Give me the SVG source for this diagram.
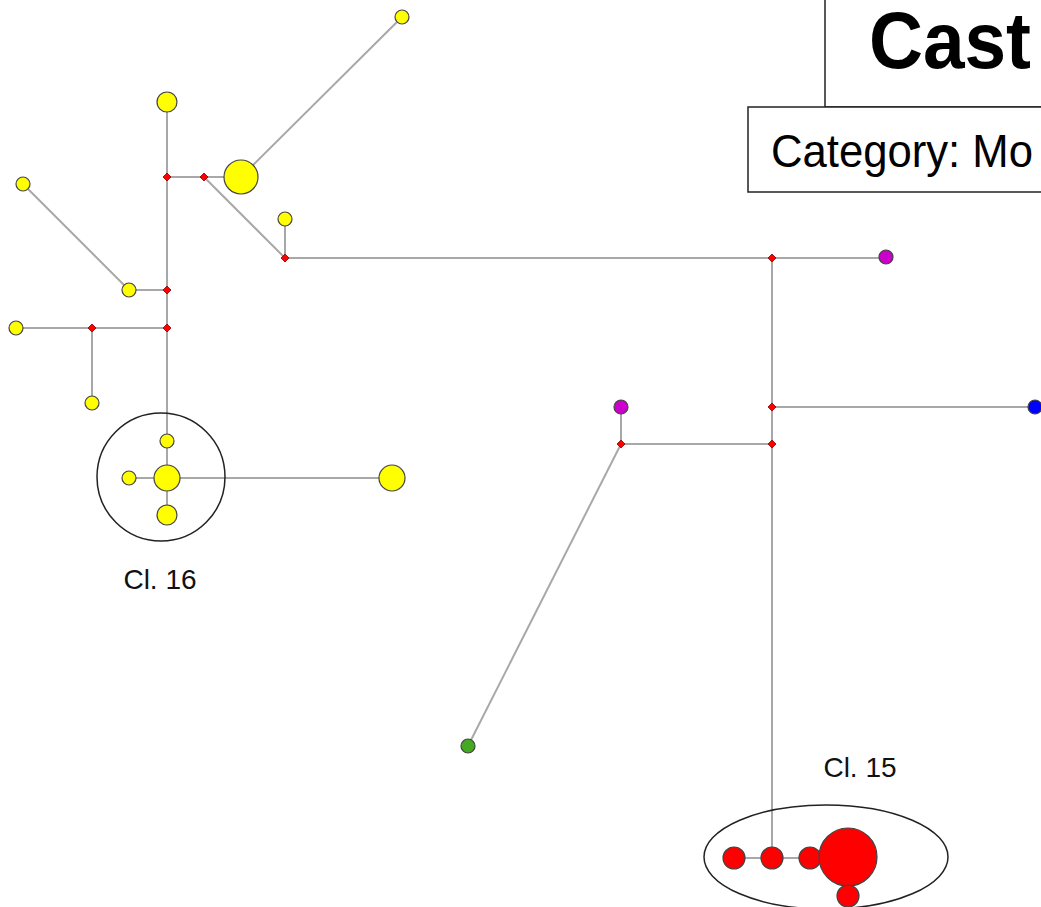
<svg xmlns="http://www.w3.org/2000/svg" width="1041" height="907" viewBox="0 0 1041 907">
<style>
.e{stroke:#a8a8a8;stroke-width:2;fill:none}
.y{fill:#ffff00;stroke:#444;stroke-width:1.2}
.r{fill:#ff0000;stroke:#444;stroke-width:1.2}
.m{fill:#cc00cc;stroke:#444;stroke-width:1.2}
.b{fill:#0000ff;stroke:#444;stroke-width:1.2}
.g{fill:#44aa22;stroke:#444;stroke-width:1.2}
.mv{fill:#ff0000;stroke:#800;stroke-width:0.8}
.cl{fill:none;stroke:#222;stroke-width:1.5}
.lbl{font-family:"Liberation Sans",Arial,sans-serif;font-size:28px;fill:#111;text-anchor:middle}
.box{fill:#fff;stroke:#222;stroke-width:1.5}
</style>
<defs>
<path id="dm" d="M0,-4L4,0L0,4L-4,0Z"/>
</defs>
<rect width="1041" height="907" fill="#fff"/>
<g id="title">
<rect class="box" x="825" y="-5" width="230" height="112"/>
<text x="869" y="68" font-family="Liberation Sans,Arial,sans-serif" font-weight="bold" font-size="80" fill="#000" textLength="162" lengthAdjust="spacingAndGlyphs">Cast</text>
</g>
<g id="category">
<rect class="box" x="748" y="107" width="310" height="85"/>
<text x="771" y="167" font-family="Liberation Sans,Arial,sans-serif" font-size="46" fill="#000" textLength="262" lengthAdjust="spacingAndGlyphs">Category: Mo</text>
</g>
<g id="connectors">
<line class="e" x1="402" y1="17" x2="241" y2="177"/>
<line class="e" x1="167" y1="102" x2="167" y2="177"/>
<line class="e" x1="167" y1="177" x2="241" y2="177"/>
<line class="e" x1="204" y1="177" x2="285" y2="258"/>
<line class="e" x1="285" y1="219" x2="285" y2="258"/>
<line class="e" x1="285" y1="258" x2="886" y2="258"/>
<line class="e" x1="772" y1="258" x2="772" y2="858"/>
<line class="e" x1="772" y1="407" x2="1035" y2="407"/>
<line class="e" x1="772" y1="444" x2="621" y2="444"/>
<line class="e" x1="621" y1="444" x2="621" y2="407"/>
<line class="e" x1="621" y1="444" x2="468" y2="746"/>
<line class="e" x1="734" y1="858" x2="848" y2="858"/>
<line class="e" x1="848" y1="857" x2="848" y2="896"/>
<line class="e" x1="167" y1="177" x2="167" y2="515"/>
<line class="e" x1="23" y1="184" x2="129" y2="290"/>
<line class="e" x1="129" y1="290" x2="167" y2="290"/>
<line class="e" x1="167" y1="328" x2="16" y2="328"/>
<line class="e" x1="92" y1="328" x2="92" y2="403"/>
<line class="e" x1="129" y1="478" x2="392" y2="478"/>
</g>
<g id="cluster16">
<circle class="cl" cx="161" cy="477" r="64"/>
<text class="lbl" x="160" y="589">Cl. 16</text>
</g>
<g id="cluster15">
<ellipse class="cl" cx="826" cy="857" rx="122" ry="52"/>
<text class="lbl" x="860" y="777">Cl. 15</text>
</g>
<g id="yellow-nodes">
<circle id="y1" class="y" cx="402" cy="17" r="7"/>
<circle id="y2" class="y" cx="167" cy="102" r="10"/>
<circle id="y3" class="y" cx="241" cy="177" r="17"/>
<circle id="y4" class="y" cx="23" cy="184" r="7"/>
<circle id="y5" class="y" cx="285" cy="219" r="7"/>
<circle id="y6" class="y" cx="129" cy="290" r="7"/>
<circle id="y7" class="y" cx="16" cy="328" r="7"/>
<circle id="y8" class="y" cx="92" cy="403" r="7"/>
<circle id="y9" class="y" cx="167" cy="441" r="7"/>
<circle id="y10" class="y" cx="129" cy="478" r="7"/>
<circle id="y11" class="y" cx="167" cy="478" r="13"/>
<circle id="y12" class="y" cx="167" cy="515" r="10"/>
<circle id="y13" class="y" cx="392" cy="478" r="13"/>
</g>
<g id="other-nodes">
<circle id="m1" class="m" cx="886" cy="257" r="7"/>
<circle id="m2" class="m" cx="621" cy="407" r="7"/>
<circle id="b1" class="b" cx="1035" cy="407" r="7"/>
<circle id="g1" class="g" cx="468" cy="746" r="7"/>
</g>
<g id="red-nodes">
<circle id="r1" class="r" cx="734" cy="858" r="11"/>
<circle id="r2" class="r" cx="772" cy="858" r="11"/>
<circle id="r3" class="r" cx="810" cy="858" r="11"/>
<circle id="r4" class="r" cx="848" cy="857" r="29"/>
<circle id="r5" class="r" cx="848" cy="896" r="11"/>
</g>
<g id="median-vectors">
<use href="#dm" class="mv" x="167" y="177"/>
<use href="#dm" class="mv" x="204" y="177"/>
<use href="#dm" class="mv" x="285" y="258"/>
<use href="#dm" class="mv" x="167" y="290"/>
<use href="#dm" class="mv" x="167" y="328"/>
<use href="#dm" class="mv" x="92" y="328"/>
<use href="#dm" class="mv" x="772" y="258"/>
<use href="#dm" class="mv" x="772" y="407"/>
<use href="#dm" class="mv" x="772" y="444"/>
<use href="#dm" class="mv" x="621" y="444"/>
</g>
</svg>
